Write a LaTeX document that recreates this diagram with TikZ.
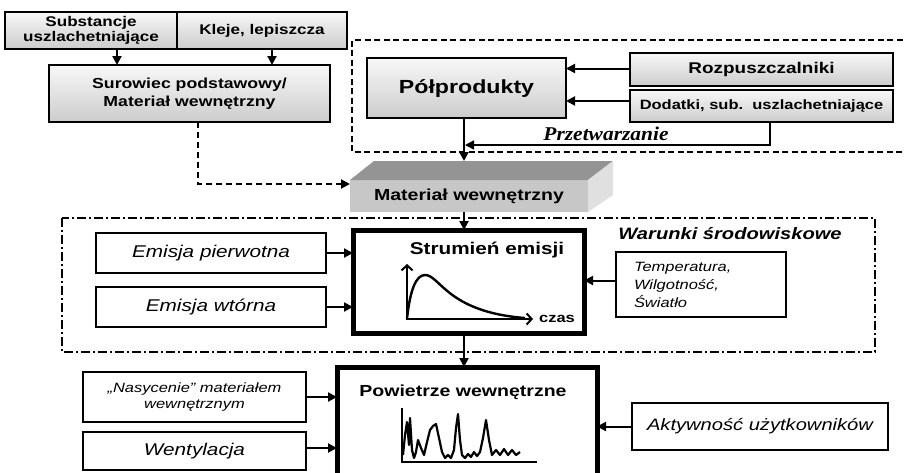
\documentclass[tikz,border=0pt]{standalone}
\usepackage{fontspec}
\setmainfont{Liberation Sans}
\newfontfamily\arw[FakeStretch=1.22]{Liberation Sans}
\newfontfamily\tmw[FakeStretch=1.1]{Liberation Serif}
\usetikzlibrary{arrows.meta}

\begin{document}
\begin{tikzpicture}[x=1pt,y=-1pt,
  every node/.style={inner sep=0pt, outer sep=0pt},
  greybox/.style={draw, line width=2.2pt, top color=gray!6, bottom color=gray!40,
    font=\arw\bfseries, align=center},
  whitebox/.style={draw, line width=2.2pt, fill=white, font=\arw\itshape, align=center},
  heavybox/.style={draw, line width=5pt, fill=white},
  arr/.style={line width=2pt, -{Triangle[length=9pt,width=9pt]}},
  dsharr/.style={line width=2pt, dash pattern=on 6pt off 4pt, -{Triangle[length=9pt,width=9pt]}},
  dashframe/.style={line width=2pt, dash pattern=on 6pt off 3.5pt},
  dotframe/.style={line width=2pt, dash pattern=on 9pt off 3pt on 2pt off 3pt},
  axisarr/.style={line width=2pt, -{Straight Barb[length=5pt,width=11pt]}}
]
\fill[white] (0,0) rectangle (904,472);
\path[use as bounding box] (0,0) rectangle (904,472);
\clip (0,0) rectangle (904,472);

% processing frame and environment frame
\draw[dashframe] (912,40) -- (352,40) -- (352,152) -- (912,152);
\draw[dotframe] (62,218) rectangle (875,352);

% raw materials
\node[greybox, minimum width=172pt, minimum height=37pt, font=\arw\bfseries\fontsize{14}{15}\selectfont]
  (subst) at (91,30.5) {Substancje\\uszlachetniające};
\node[greybox, minimum width=170pt, minimum height=37pt, font=\arw\bfseries\fontsize{14}{15}\selectfont]
  (kleje) at (262,30.5) {Kleje, lepiszcza};
\node[greybox, minimum width=281pt, minimum height=57pt, font=\arw\bfseries\fontsize{14.5}{18}\selectfont]
  (sur) at (189.5,93.5) {Surowiec podstawowy/\\Materiał wewnętrzny};

% semi-products
\node[greybox, minimum width=199pt, minimum height=60pt, font=\arw\bfseries\fontsize{19}{21}\selectfont]
  (polp) at (466.5,88) {Półprodukty};
\node[greybox, minimum width=263pt, minimum height=33pt, font=\arw\bfseries\fontsize{15.5}{17}\selectfont]
  (rozp) at (761.5,69.5) {Rozpuszczalniki};
\node[greybox, minimum width=263pt, minimum height=32pt, font=\arw\bfseries\fontsize{13.5}{15}\selectfont]
  (dod) at (761.5,106) {Dodatki, sub.\ \ uszlachetniające};
\node[font=\tmw\bfseries\itshape\fontsize{19.5}{21}\selectfont] (przetw) at (606,134) {Przetwarzanie};

% indoor material block (3D slab)
\node[fill=black!22, minimum width=238pt, minimum height=32pt, font=\arw\bfseries\fontsize{16}{18}\selectfont]
  (mat) at (469,196) {Materiał wewnętrzny};
\coordinate (mbackl) at ([xshift=24pt,yshift=19pt]mat.north west);
\coordinate (mbackr) at ([xshift=25pt,yshift=19pt]mat.north east);
\fill[black!42] (mat.north west) -- (mbackl) -- (mbackr) -- (mat.north east) -- cycle;
\fill[black!12] (mat.north east) -- (mbackr) -- ([xshift=25pt,yshift=17pt]mat.south east) -- (mat.south east) -- cycle;

% emission stream
\node[heavybox, minimum width=231pt, minimum height=103pt] (strum) at (468.5,281.5) {};
\node[font=\arw\bfseries\fontsize{17}{19}\selectfont] (strumt) at (487,250) {Strumień emisji};
\node[font=\arw\bfseries\fontsize{13.5}{15}\selectfont] (czas) at (557,319) {czas};
\draw[axisarr] (407,320) -- (407,264);
\draw[axisarr] (406,319) -- (533,319);
\draw[line width=2.4pt] (407,319) .. controls (410,290) and (416,275) .. (425,275)
  .. controls (440,275) and (447,312) .. (525,318);

\node[whitebox, minimum width=230pt, minimum height=40pt, font=\arw\itshape\fontsize{17}{18}\selectfont]
  (emp) at (211,253) {Emisja pierwotna};
\node[whitebox, minimum width=230pt, minimum height=40pt, font=\arw\itshape\fontsize{17}{18}\selectfont]
  (emw) at (211,307) {Emisja wtórna};
\node[font=\arw\bfseries\itshape\fontsize{16.5}{18}\selectfont] (warunki) at (730,234) {Warunki środowiskowe};
\node[whitebox, minimum width=170pt, minimum height=65pt, text width=134pt, align=left,
  font=\arw\itshape\fontsize{13.5}{18}\selectfont] (temp) at (701,284.5) {Temperatura,\\Wilgotność,\\Światło};

% indoor air
\node[heavybox, minimum width=260pt, minimum height=113pt] (pow) at (467,423.5) {};
\node[font=\arw\bfseries\fontsize{16}{18}\selectfont] (powt) at (463,392) {Powietrze wewnętrzne};
\draw[line width=1.8pt] (402,408) -- (402,462) -- (537,462);
\draw[line width=2.2pt, line join=round] plot coordinates {
  (403,455) (405,435) (407,422) (409,445) (410,418) (412,450) (414,458) (416,452)
  (418,440) (421,448) (424,455) (427,442) (430,430) (433,426) (436,424) (439,438)
  (442,452) (445,458) (448,455) (451,458) (454,450) (456,428) (458,414) (460,440)
  (462,455) (465,458) (468,454) (471,457) (474,452) (477,456) (480,452) (483,438)
  (486,420) (489,440) (492,455) (496,450) (500,455) (504,449) (508,455) (512,450)
  (516,455) (520,452)};

\node[whitebox, minimum width=223pt, minimum height=50pt, font=\arw\itshape\fontsize{13.5}{16}\selectfont]
  (nas) at (194.5,397) {„Nasycenie” materiałem\\wewnętrznym};
\node[whitebox, minimum width=223pt, minimum height=38pt, font=\arw\itshape\fontsize{17}{18}\selectfont]
  (went) at (194.5,451) {Wentylacja};
\node[whitebox, minimum width=256pt, minimum height=47pt, font=\arw\itshape\fontsize{16.5}{18}\selectfont]
  (akt) at (760,426.5) {Aktywność użytkowników};

% connectors
\draw[arr] ([xshift=26pt]subst.south) -- ([xshift=26pt]subst.south |- sur.north);
\draw[arr] ([xshift=10pt]kleje.south) -- ([xshift=10pt]kleje.south |- sur.north);
\draw[arr] ([yshift=1pt]rozp.west) -- ([yshift=1pt]rozp.west -| polp.east);
\draw[arr] ([yshift=5pt]dod.west) -- ([yshift=5pt]dod.west -| polp.east);
\coordinate (pz) at (465,145);
\draw[arr, line width=1.6pt] ([xshift=8.5pt]dod.south) |- (pz);
\draw[arr] ([xshift=-2.5pt]polp.south) -- ([xshift=-2.5pt]polp.south |- mbackl);
\draw[dsharr] ([xshift=8.5pt]sur.south) |- ([yshift=12pt]mat.west);
\draw[arr] ([xshift=-5pt]mat.south) -- ([xshift=-5pt]mat.south |- strum.north);
\draw[arr] (emp.east) -- (emp.east -| strum.west);
\draw[arr] (emw.east) -- (emw.east -| strum.west);
\draw[arr] ([yshift=4pt]temp.west) -- ([yshift=4pt]temp.west -| strum.east);
\draw[arr] ([xshift=-4.5pt]strum.south) -- ([xshift=-4.5pt]strum.south |- pow.north);
\draw[arr] (nas.east) -- (nas.east -| pow.west);
\draw[arr] ([yshift=3pt]went.east) -- ([yshift=3pt]went.east -| pow.west);
\draw[arr] (akt.west) -- (akt.west -| pow.east);
\end{tikzpicture}
\end{document}
